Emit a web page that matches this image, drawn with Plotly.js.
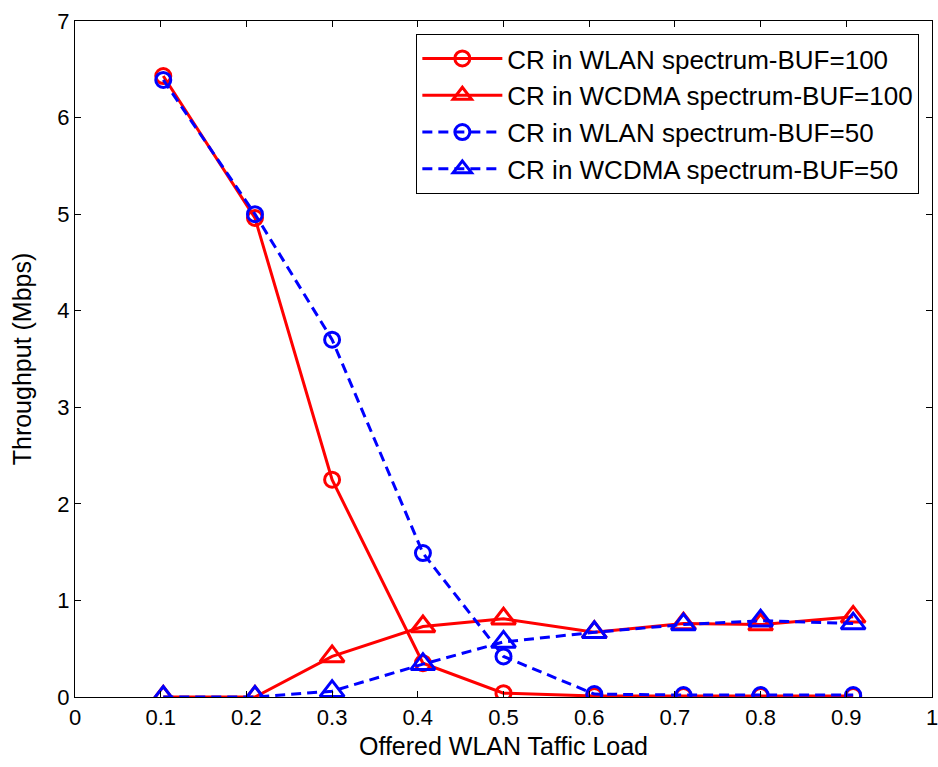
<!DOCTYPE html>
<html>
<head>
<meta charset="utf-8">
<script src="https://cdn.plot.ly/plotly-3.0.1.min.js"></script>
<style>html,body{margin:0;padding:0;background:#fff;}#chart{width:938px;height:767px;}</style>
</head>
<body>
<div id="chart"></div>
<script>
const load = [0.103, 0.21, 0.30, 0.406, 0.50, 0.606, 0.71, 0.80, 0.908];
const wlanBuf100 = [6.43, 4.96, 2.25, 0.35, 0.04, 0.01, 0.01, 0.01, 0.01];
const wcdmaBuf100 = [0.0, 0.0, 0.42, 0.73, 0.81, 0.67, 0.76, 0.75, 0.83];
const wlanBuf50 = [6.39, 5.0, 3.7, 1.49, 0.42, 0.03, 0.02, 0.02, 0.02];
const wcdmaBuf50 = [0.0, 0.0, 0.06, 0.34, 0.57, 0.67, 0.75, 0.79, 0.76];
const seriesNames = ["CR in WLAN spectrum-BUF=100", "CR in WCDMA spectrum-BUF=100", "CR in WLAN spectrum-BUF=50", "CR in WCDMA spectrum-BUF=50"];
const xTicks = [0, 0.1, 0.2, 0.3, 0.4, 0.5, 0.6, 0.7, 0.8, 0.9, 1];
const yTicks = [0, 1, 2, 3, 4, 5, 6, 7];

const font = "Liberation Sans, Arial, sans-serif";
function tr(y, name, color, dash, symbol, size) {
  return {
    x: load, y: y, name: name, type: 'scatter', mode: 'lines+markers',
    line: {color: color, width: 3, dash: dash},
    marker: {symbol: symbol, size: size, color: color, line: {color: color, width: 3}}
  };
}
const data = [
  tr(wlanBuf100, seriesNames[0], '#ff0000', 'solid', 'circle-open', 15),
  tr(wcdmaBuf100, seriesNames[1], '#ff0000', 'solid', 'triangle-up-open', 21),
  tr(wlanBuf50, seriesNames[2], '#0000ff', '10px,6px', 'circle-open', 15),
  tr(wcdmaBuf50, seriesNames[3], '#0000ff', '10px,6px', 'triangle-up-open', 21)
];
const axisCommon = {
  showline: true, linecolor: '#000', linewidth: 1.2, mirror: 'ticks',
  ticks: 'inside', ticklen: 6, tickcolor: '#000', tickwidth: 1,
  showgrid: false, zeroline: false, ticklabeloverflow: 'allow',
  tickfont: {family: font, size: 22, color: '#000'}
};
const layout = {
  width: 938, height: 767,
  margin: {l: 75, r: 6, t: 21, b: 70},
  paper_bgcolor: '#fff', plot_bgcolor: '#fff',
  showlegend: true,
  legend: {
    x: 0.985, y: 0.981, xanchor: 'right', yanchor: 'top',
    bordercolor: '#000', borderwidth: 1.2, bgcolor: '#fff',
    font: {family: font, size: 26, color: '#000'},
    tracegroupgap: 0, itemwidth: 80
  },
  xaxis: Object.assign({}, axisCommon, {
    range: [0, 1], tickvals: xTicks, ticktext: xTicks.map(String),
    title: {text: 'Offered WLAN Taffic Load', font: {family: font, size: 25, color: '#000'}, standoff: 9}
  }),
  yaxis: Object.assign({}, axisCommon, {
    range: [0, 7], tickvals: yTicks, ticktext: yTicks.map(String),
    title: {text: 'Throughput (Mbps)', font: {family: font, size: 25, color: '#000'}, standoff: 18}
  })
};
Plotly.newPlot('chart', data, layout, {displayModeBar: false, staticPlot: true});
</script>
</body>
</html>
